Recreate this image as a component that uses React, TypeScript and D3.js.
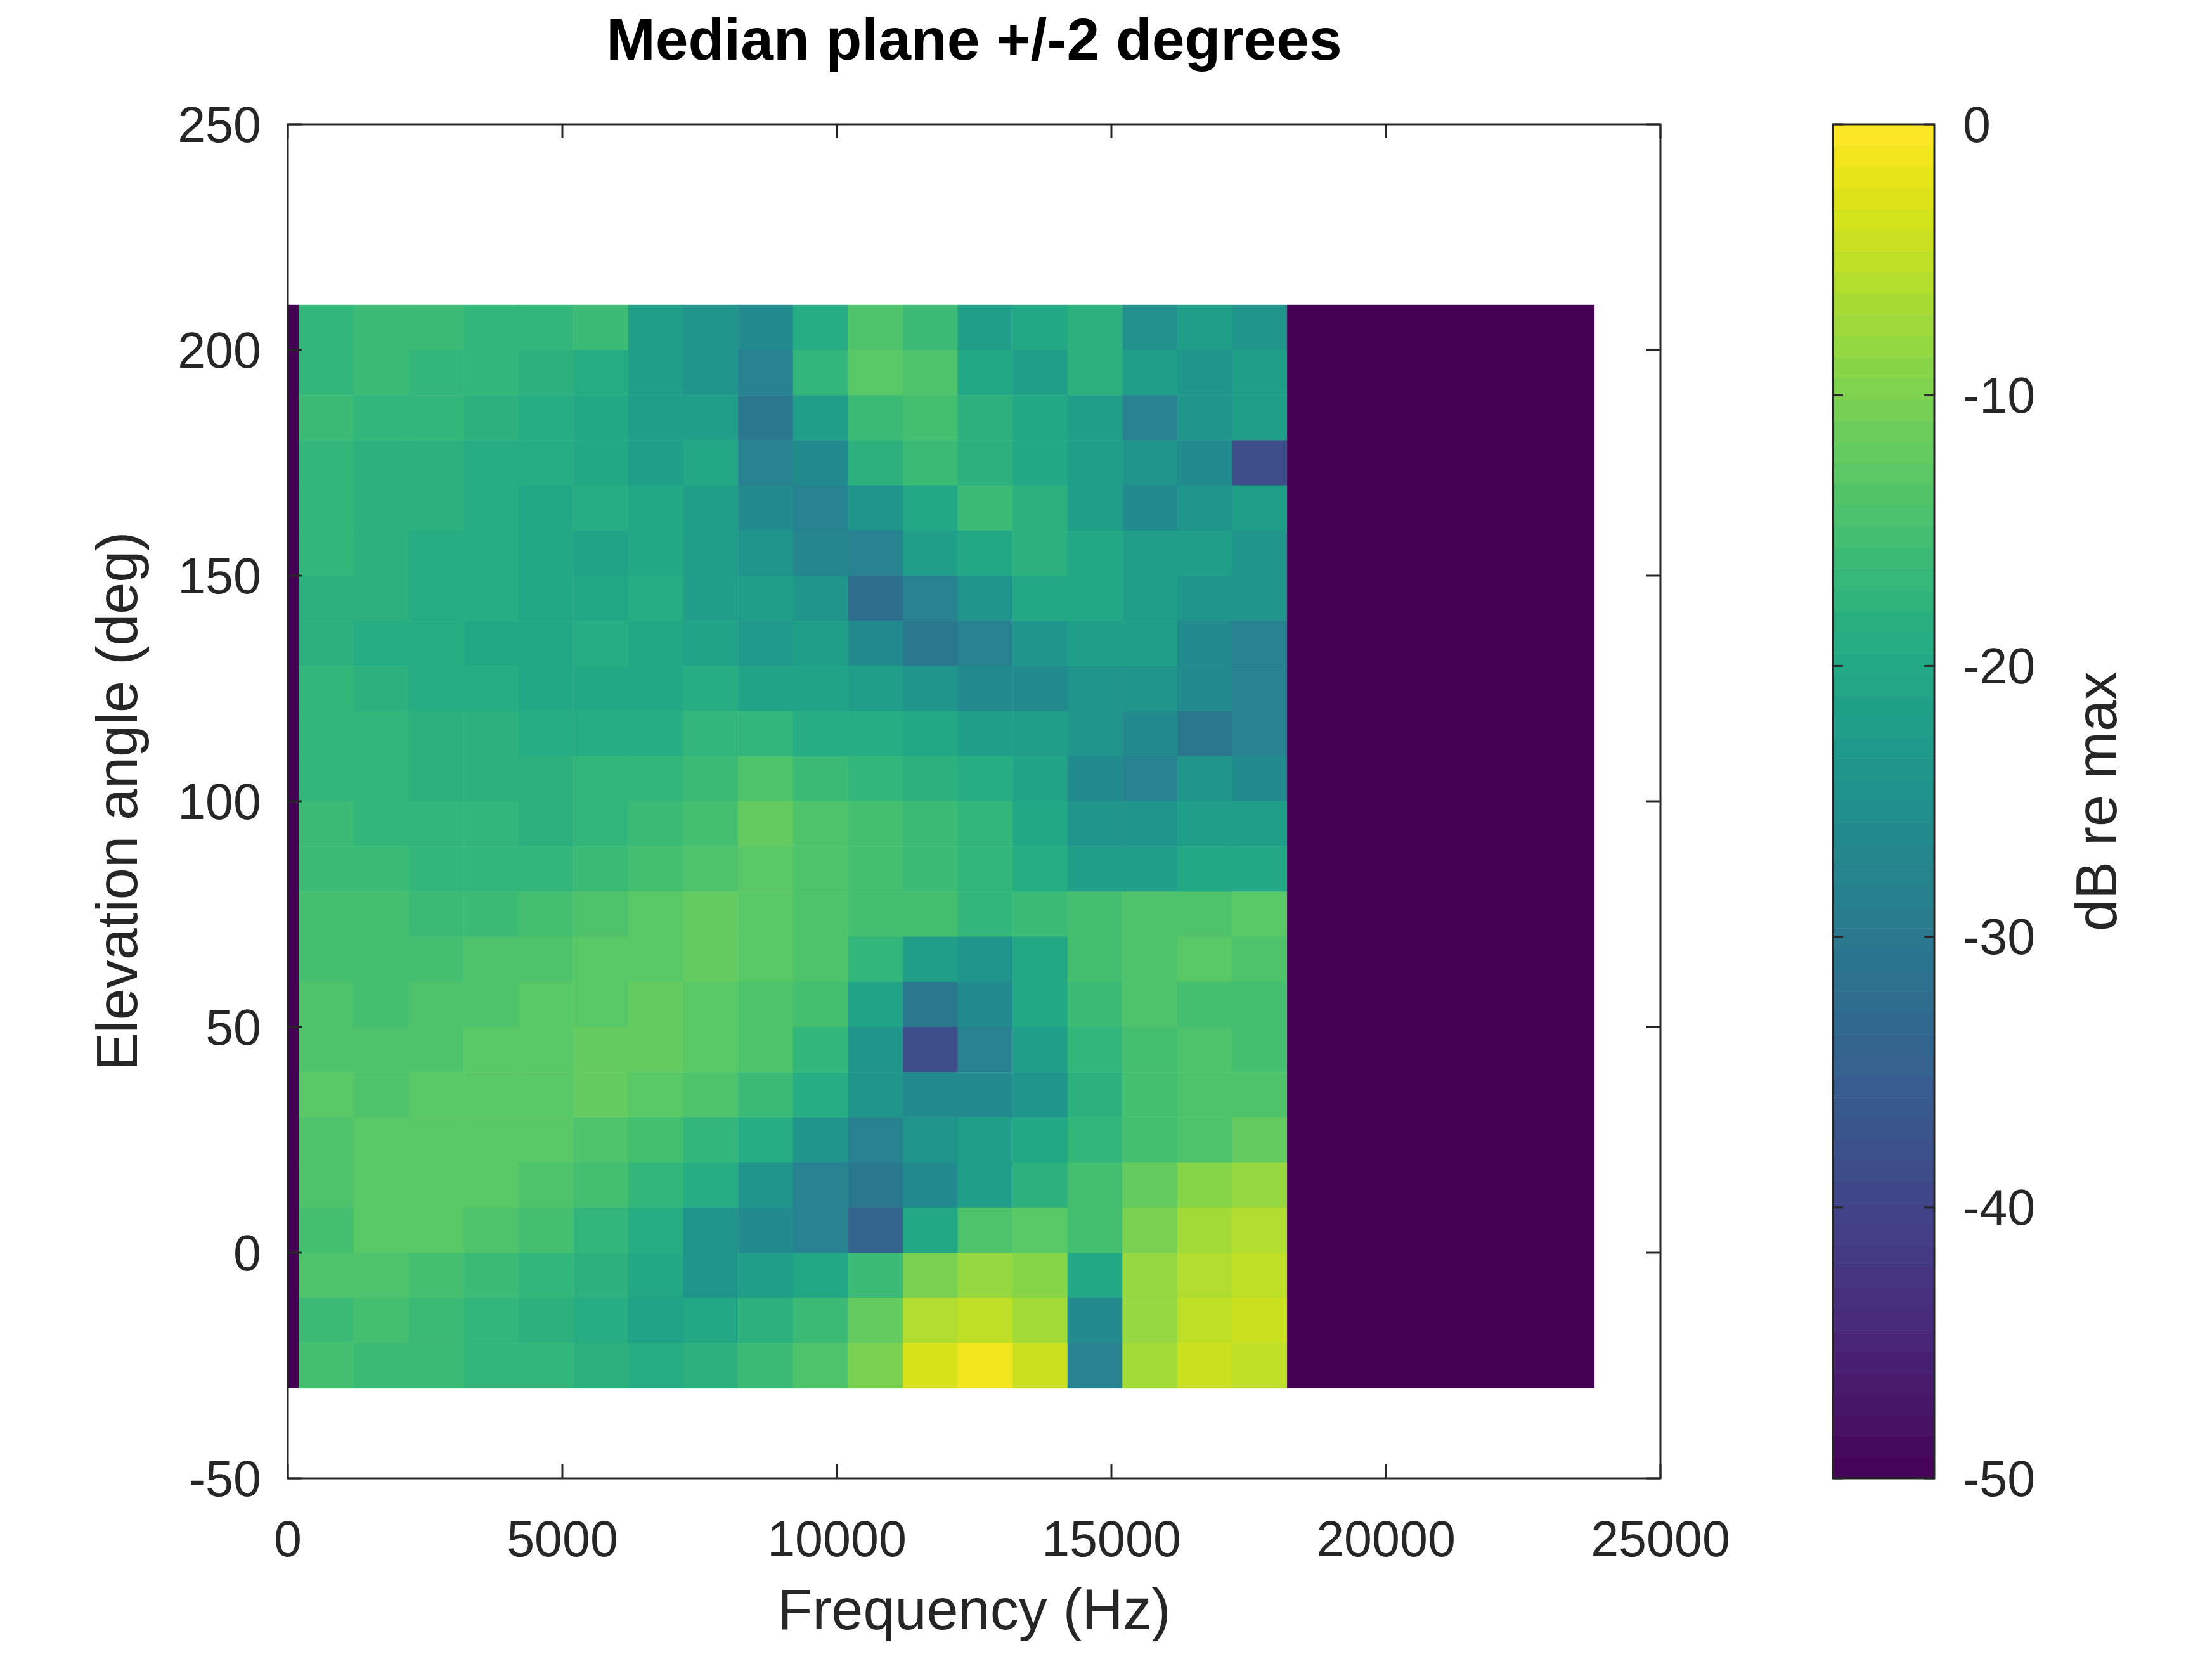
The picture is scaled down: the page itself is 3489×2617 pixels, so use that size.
import React from "react";
import * as d3 from "d3";

const title = "Median plane +/-2 degrees";
const xTicks = [0, 5000, 10000, 15000, 20000, 25000];
const yTicks = [-50, 0, 50, 100, 150, 200, 250];
const cTicks = [0, -10, -20, -30, -40, -50];
// frequency bin edges (Hz) for measured columns
const freqEdges = [200, 1200, 2200, 3200, 4200, 5200, 6200, 7200, 8200, 9200, 10200, 11200, 12200, 13200, 14200, 15200, 16200, 17200, 18200];
// elevation bin edges (deg), bottom to top
const elevEdges = [-30, -20, -10, 0, 10, 20, 30, 40, 50, 60, 70, 80, 90, 100, 110, 120, 130, 140, 150, 160, 170, 180, 190, 200, 210];
// dB values, rows from top (200..210) to bottom (-30..-20)
const dB: number[][] = [
  [-17,-16,-16,-17,-17,-16,-22,-24,-26,-19,-14,-16,-22,-20,-18,-25,-22,-24],
  [-17,-16,-17,-17,-18,-19,-22,-24,-28,-17,-13,-14,-20,-22,-18,-22,-24,-22],
  [-16,-17,-17,-18,-19,-20,-22,-22,-30,-22,-16,-15,-18,-20,-22,-28,-24,-22],
  [-17,-18,-18,-19,-19,-20,-22,-20,-28,-26,-18,-16,-18,-20,-22,-24,-26,-38],
  [-17,-18,-18,-19,-20,-19,-20,-22,-26,-28,-24,-20,-16,-18,-22,-26,-24,-22],
  [-17,-18,-19,-19,-20,-21,-20,-22,-24,-27,-28,-22,-20,-18,-20,-22,-22,-24],
  [-18,-18,-19,-19,-20,-20,-19,-22,-22,-24,-32,-28,-24,-20,-20,-22,-24,-24],
  [-18,-19,-19,-20,-20,-19,-20,-21,-23,-22,-26,-30,-28,-24,-22,-22,-26,-28],
  [-17,-18,-19,-19,-20,-20,-20,-19,-21,-21,-22,-24,-26,-26,-24,-24,-26,-28],
  [-17,-17,-18,-18,-19,-19,-19,-17,-17,-19,-19,-20,-22,-22,-24,-26,-30,-28],
  [-17,-17,-18,-18,-18,-17,-17,-16,-14,-16,-17,-18,-19,-21,-26,-28,-24,-26],
  [-16,-17,-17,-17,-18,-17,-16,-15,-12,-14,-15,-16,-17,-20,-24,-24,-22,-22],
  [-16,-16,-17,-17,-17,-16,-15,-14,-13,-14,-15,-16,-17,-19,-22,-22,-20,-20],
  [-15,-15,-16,-16,-15,-14,-13,-12,-13,-14,-15,-15,-17,-16,-15,-14,-14,-13],
  [-15,-15,-15,-14,-14,-13,-13,-12,-13,-14,-17,-22,-24,-20,-15,-14,-13,-14],
  [-14,-15,-14,-14,-13,-13,-12,-13,-14,-15,-21,-30,-26,-20,-16,-14,-15,-15],
  [-14,-14,-14,-13,-13,-12,-12,-13,-14,-17,-24,-38,-28,-22,-17,-15,-14,-15],
  [-13,-14,-13,-13,-13,-12,-13,-14,-16,-19,-24,-26,-26,-24,-18,-15,-14,-14],
  [-14,-13,-13,-13,-13,-14,-15,-17,-19,-24,-28,-24,-22,-20,-17,-15,-14,-12],
  [-14,-13,-13,-13,-14,-15,-17,-19,-24,-28,-30,-26,-22,-18,-15,-12,-9,-8],
  [-15,-13,-13,-14,-15,-17,-19,-24,-26,-28,-34,-20,-14,-13,-15,-10,-7,-6],
  [-14,-14,-15,-16,-17,-18,-20,-24,-22,-20,-16,-10,-8,-9,-20,-8,-6,-5],
  [-16,-15,-16,-17,-18,-19,-21,-20,-18,-16,-12,-6,-5,-7,-26,-8,-5,-4],
  [-15,-16,-16,-17,-17,-18,-19,-18,-16,-14,-10,-3,-1,-4,-28,-7,-4,-5],
];
const floorDb = -50;
const floorBands = [[0, 200], [18200, 23800]];

const W = 3489, H = 2617;
const L = 454, R = 2619, T = 196, B = 2332;
const CL = 2891, CR = 3051;
const font = "Liberation Sans, Arial, sans-serif";
const fs = 79;
const lfs = 90;
const tick = 22;

export default function App() {
  const x = d3.scaleLinear().domain([0, 25000]).range([L, R]);
  const y = d3.scaleLinear().domain([-50, 250]).range([B, T]);
  const c = d3.scaleLinear().domain([-50, 0]).range([B, T]);
  const col = (v: number) => d3.interpolateViridis((v + 50) / 50);
  const nRows = elevEdges.length - 1;
  const cells: any[] = [];
  dB.forEach((row, ri) => {
    const e0 = elevEdges[nRows - 1 - ri], e1 = elevEdges[nRows - ri];
    row.forEach((v, ci) => {
      const f0 = freqEdges[ci], f1 = freqEdges[ci + 1];
      cells.push(<rect key={`c${ri}-${ci}`} x={x(f0)} y={y(e1)} width={x(f1) - x(f0) + 0.5} height={y(e0) - y(e1) + 0.5} fill={col(v)} />);
    });
  });
  floorBands.forEach(([f0, f1], i) =>
    cells.push(<rect key={`f${i}`} x={x(f0)} y={y(210)} width={x(f1) - x(f0)} height={y(-30) - y(210)} fill={col(floorDb)} />)
  );
  const cSteps = d3.range(0, 64);
  return (
    <svg width={W} height={H} style={{ position: "absolute", left: 0, top: 0, background: "#fff" }} fontFamily={font}>
      <rect width={W} height={H} fill="#fff" />
      <text x={(L + R) / 2} y={62} fontSize={93} fontWeight="bold" textAnchor="middle" dominantBaseline="central">{title}</text>
      {cells}
      <rect x={L} y={T} width={R - L} height={B - T} fill="none" stroke="#262626" strokeWidth={3} />
      {xTicks.map(t => (
        <g key={`x${t}`}>
          <line x1={x(t)} x2={x(t)} y1={B} y2={B - tick} stroke="#262626" strokeWidth={3} />
          <line x1={x(t)} x2={x(t)} y1={T} y2={T + tick} stroke="#262626" strokeWidth={3} />
          <text x={x(t)} y={2427} fontSize={fs} textAnchor="middle" dominantBaseline="central" fill="#262626">{t}</text>
        </g>
      ))}
      {yTicks.map(t => (
        <g key={`y${t}`}>
          <line x1={L} x2={L + tick} y1={y(t)} y2={y(t)} stroke="#262626" strokeWidth={3} />
          <line x1={R} x2={R - tick} y1={y(t)} y2={y(t)} stroke="#262626" strokeWidth={3} />
          <text x={412} y={y(t)} fontSize={fs} textAnchor="end" dominantBaseline="central" fill="#262626">{t}</text>
        </g>
      ))}
      <text x={(L + R) / 2} y={2539} fontSize={lfs} textAnchor="middle" dominantBaseline="central" fill="#262626">Frequency (Hz)</text>
      <text transform={`translate(185,${(T + B) / 2}) rotate(-90)`} fontSize={lfs} textAnchor="middle" dominantBaseline="central" fill="#262626">Elevation angle (deg)</text>
      {cSteps.map(i => {
        const v0 = -50 + (i * 50) / 64, v1 = -50 + ((i + 1) * 50) / 64;
        return <rect key={`cb${i}`} x={CL} y={c(v1)} width={CR - CL} height={c(v0) - c(v1) + 0.5} fill={col((v0 + v1) / 2)} />;
      })}
      <rect x={CL} y={T} width={CR - CL} height={B - T} fill="none" stroke="#262626" strokeWidth={3} />
      {cTicks.map(t => (
        <g key={`ct${t}`}>
          <line x1={CL} x2={CL + 16} y1={c(t)} y2={c(t)} stroke="#262626" strokeWidth={3} />
          <line x1={CR} x2={CR - 16} y1={c(t)} y2={c(t)} stroke="#262626" strokeWidth={3} />
          <text x={3096} y={c(t)} fontSize={fs} textAnchor="start" dominantBaseline="central" fill="#262626">{t}</text>
        </g>
      ))}
      <text transform={`translate(3307,${(T + B) / 2}) rotate(-90)`} fontSize={lfs} textAnchor="middle" dominantBaseline="central" fill="#262626">dB re max</text>
    </svg>
  );
}
